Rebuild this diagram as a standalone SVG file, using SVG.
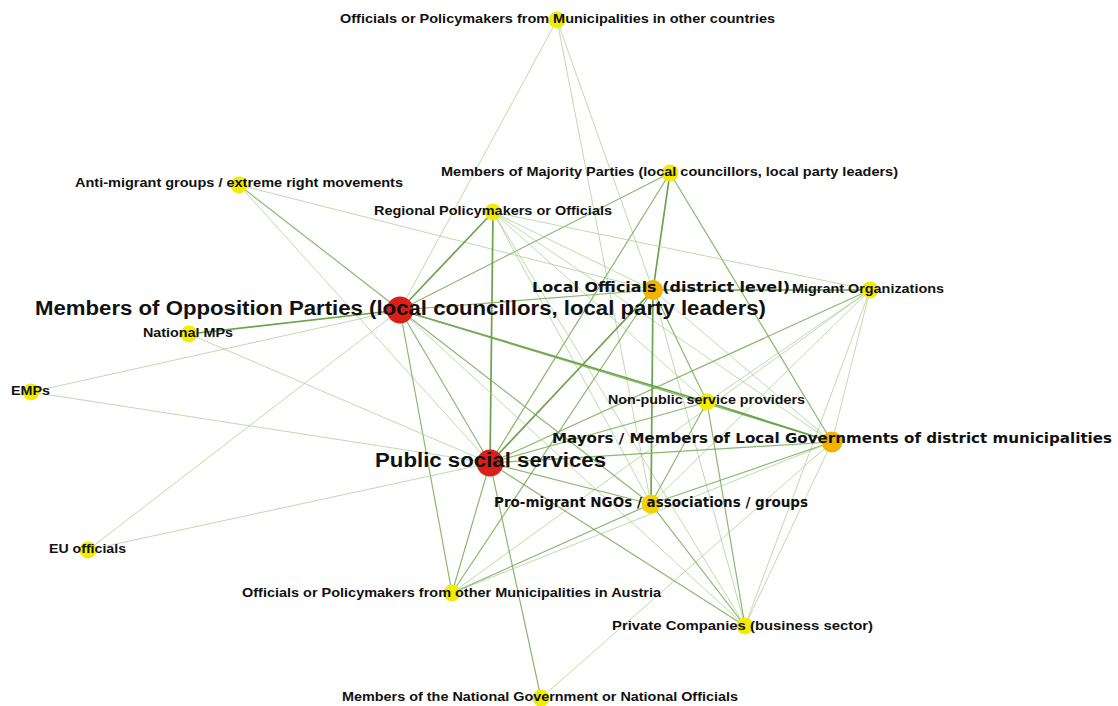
<svg xmlns="http://www.w3.org/2000/svg" width="1118" height="706" viewBox="0 0 1118 706">
<style>
.bg{fill:#ffffff}
#edges line{stroke-linecap:round}
.t{stroke:#5a9a38;stroke-width:1.7;stroke-opacity:0.9}
.m{stroke:#76ad55;stroke-width:1.2;stroke-opacity:0.85}
.f{stroke:#a6cc8c;stroke-width:0.9;stroke-opacity:0.8}
.red{fill:#dc1e1a}
.org{fill:#f3b400}
.yo{fill:#f4d200}
.yel{fill:#f2ec00}
text{font-family:"Liberation Sans",Arial,sans-serif;font-weight:bold;fill:#111111}
.s{font-size:13px}
.b{font-size:19.5px}
.d{font-family:"DejaVu Sans",Verdana,sans-serif;font-size:13.5px}
</style>
<rect class="bg" x="0" y="0" width="1118" height="706"/>
<g id="edges">
<line class="f" x1="557" y1="20" x2="400" y2="310"/>
<line class="f" x1="557" y1="20" x2="653" y2="290"/>
<line class="f" x1="557" y1="20" x2="651" y2="504"/>
<line class="m" x1="239" y1="185" x2="400" y2="310"/>
<line class="f" x1="239" y1="185" x2="490" y2="463"/>
<line class="f" x1="239" y1="185" x2="653" y2="290"/>
<line class="m" x1="670" y1="173" x2="400" y2="310"/>
<line class="m" x1="670" y1="173" x2="490" y2="463"/>
<line class="t" x1="670" y1="173" x2="653" y2="290"/>
<line class="m" x1="670" y1="173" x2="832" y2="442"/>
<line class="t" x1="493" y1="212" x2="400" y2="310"/>
<line class="t" x1="493" y1="212" x2="490" y2="463"/>
<line class="f" x1="493" y1="212" x2="653" y2="290"/>
<line class="f" x1="493" y1="212" x2="870" y2="290"/>
<line class="f" x1="493" y1="212" x2="832" y2="442"/>
<line class="f" x1="493" y1="212" x2="707" y2="402"/>
<line class="f" x1="493" y1="212" x2="651" y2="504"/>
<line class="f" x1="493" y1="212" x2="745" y2="626"/>
<line class="m" x1="653" y1="290" x2="400" y2="310"/>
<line class="t" x1="653" y1="290" x2="870" y2="290"/>
<line class="t" x1="653" y1="290" x2="490" y2="463"/>
<line class="m" x1="653" y1="290" x2="452" y2="593"/>
<line class="t" x1="653" y1="290" x2="651" y2="504"/>
<line class="m" x1="653" y1="290" x2="707" y2="402"/>
<line class="f" x1="653" y1="290" x2="832" y2="442"/>
<line class="f" x1="653" y1="290" x2="745" y2="626"/>
<line class="f" x1="870" y1="290" x2="832" y2="442"/>
<line class="f" x1="870" y1="290" x2="745" y2="626"/>
<line class="m" x1="870" y1="290" x2="490" y2="463"/>
<line class="f" x1="870" y1="290" x2="707" y2="402"/>
<line class="f" x1="870" y1="290" x2="651" y2="504"/>
<line class="f" x1="870" y1="290" x2="452" y2="593"/>
<line class="t" x1="400" y1="310" x2="189" y2="334"/>
<line class="f" x1="400" y1="310" x2="31" y2="392"/>
<line class="f" x1="400" y1="310" x2="88" y2="550"/>
<line class="t" x1="400" y1="310" x2="707" y2="402"/>
<line class="m" x1="400" y1="310" x2="832" y2="442"/>
<line class="m" x1="400" y1="310" x2="490" y2="463"/>
<line class="m" x1="400" y1="310" x2="452" y2="593"/>
<line class="m" x1="400" y1="310" x2="651" y2="504"/>
<line class="f" x1="400" y1="310" x2="745" y2="626"/>
<line class="f" x1="189" y1="334" x2="490" y2="463"/>
<line class="f" x1="31" y1="392" x2="490" y2="463"/>
<line class="f" x1="88" y1="550" x2="490" y2="463"/>
<line class="m" x1="490" y1="463" x2="452" y2="593"/>
<line class="m" x1="490" y1="463" x2="541" y2="698"/>
<line class="m" x1="490" y1="463" x2="707" y2="402"/>
<line class="m" x1="490" y1="463" x2="832" y2="442"/>
<line class="m" x1="490" y1="463" x2="651" y2="504"/>
<line class="m" x1="490" y1="463" x2="745" y2="626"/>
<line class="t" x1="707" y1="402" x2="832" y2="442"/>
<line class="m" x1="707" y1="402" x2="651" y2="504"/>
<line class="m" x1="707" y1="402" x2="745" y2="626"/>
<line class="m" x1="832" y1="442" x2="651" y2="504"/>
<line class="f" x1="832" y1="442" x2="452" y2="593"/>
<line class="f" x1="832" y1="442" x2="541" y2="698"/>
<line class="f" x1="832" y1="442" x2="745" y2="626"/>
<line class="m" x1="651" y1="504" x2="452" y2="593"/>
<line class="m" x1="651" y1="504" x2="745" y2="626"/>
</g>
<g id="n-om"><circle class="yel" cx="557" cy="20" r="8.5"/><text class="s" x="340" y="23" textLength="435" lengthAdjust="spacingAndGlyphs">Officials or Policymakers from Municipalities in other countries</text></g>
<g id="n-am"><circle class="yel" cx="239" cy="185" r="8.5"/><text class="s" x="75" y="187" textLength="328" lengthAdjust="spacingAndGlyphs">Anti-migrant groups / extreme right movements</text></g>
<g id="n-mj"><circle class="yel" cx="670" cy="173" r="8.5"/><text class="s" x="441" y="176" textLength="457" lengthAdjust="spacingAndGlyphs">Members of Majority Parties (local councillors, local party leaders)</text></g>
<g id="n-rp"><circle class="yel" cx="493" cy="212" r="8.5"/><text class="s" x="374" y="215" textLength="238" lengthAdjust="spacingAndGlyphs">Regional Policymakers or Officials</text></g>
<g id="n-lo"><circle class="org" cx="653" cy="290" r="10"/><text class="d" x="532" y="292" textLength="258" lengthAdjust="spacingAndGlyphs">Local Officials (district level)</text></g>
<g id="n-mo"><circle class="yel" cx="870" cy="290" r="8.5"/><text class="s" x="792" y="293" textLength="152" lengthAdjust="spacingAndGlyphs">Migrant Organizations</text></g>
<g id="n-op"><circle class="red" cx="400" cy="310" r="13.5"/><text class="b" x="35" y="315" textLength="731" lengthAdjust="spacingAndGlyphs">Members of Opposition Parties (local councillors, local party leaders)</text></g>
<g id="n-nm"><circle class="yel" cx="189" cy="334" r="8.5"/><text class="s" x="143" y="337" textLength="90" lengthAdjust="spacingAndGlyphs">National MPs</text></g>
<g id="n-emp"><circle class="yel" cx="31" cy="392" r="8.5"/><text class="s" x="11" y="395" textLength="39" lengthAdjust="spacingAndGlyphs">EMPs</text></g>
<g id="n-np"><circle class="yel" cx="707" cy="402" r="8.5"/><text class="s" x="608" y="404" textLength="197" lengthAdjust="spacingAndGlyphs">Non-public service providers</text></g>
<g id="n-my"><circle class="org" cx="832" cy="442" r="10.5"/><text class="d" x="552" y="443" textLength="560" lengthAdjust="spacingAndGlyphs">Mayors / Members of Local Governments of district municipalities</text></g>
<g id="n-ps"><circle class="red" cx="490" cy="463" r="13.5"/><text class="b" x="375" y="467" textLength="231" lengthAdjust="spacingAndGlyphs">Public social services</text></g>
<g id="n-pn"><circle class="yo" cx="651" cy="504" r="9.5"/><text class="d" x="494" y="507" textLength="314" lengthAdjust="spacingAndGlyphs">Pro-migrant NGOs / associations / groups</text></g>
<g id="n-eu"><circle class="yel" cx="88" cy="550" r="8.5"/><text class="s" x="49" y="553" textLength="77" lengthAdjust="spacingAndGlyphs">EU officials</text></g>
<g id="n-oa"><circle class="yel" cx="452" cy="593" r="8.5"/><text class="s" x="242" y="597" textLength="419" lengthAdjust="spacingAndGlyphs">Officials or Policymakers from other Municipalities in Austria</text></g>
<g id="n-pc"><circle class="yel" cx="745" cy="626" r="8.5"/><text class="s" x="612" y="630" textLength="261" lengthAdjust="spacingAndGlyphs">Private Companies (business sector)</text></g>
<g id="n-ng"><circle class="yel" cx="541" cy="698" r="8.5"/><text class="s" x="342" y="701" textLength="396" lengthAdjust="spacingAndGlyphs">Members of the National Government or National Officials</text></g>
</svg>
